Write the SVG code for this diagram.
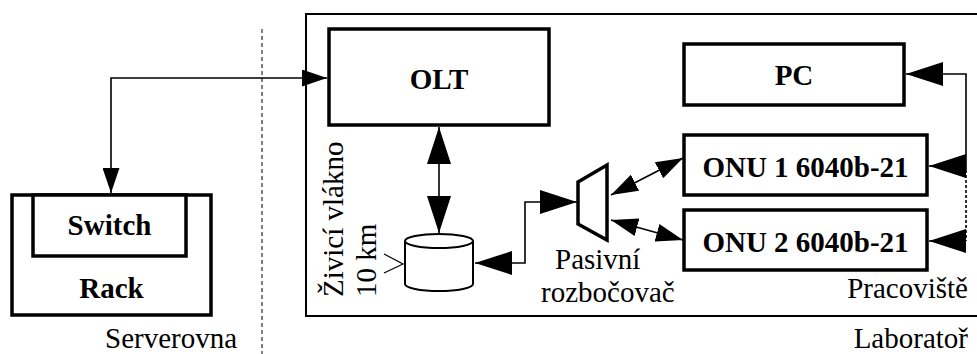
<svg xmlns="http://www.w3.org/2000/svg" width="977" height="354" viewBox="0 0 977 354">
<style>
.box{fill:#fff;stroke:#000;stroke-width:3.5}
.thin{fill:none;stroke:#000;stroke-width:2}
text{font-size:29px;fill:#000}
.b{font-weight:bold}
.ln{fill:none;stroke:#000;stroke-width:1.6}
</style>
<defs>
<marker id="big" markerUnits="userSpaceOnUse" markerWidth="37" markerHeight="24" refX="37" refY="12" orient="auto-start-reverse"><path d="M0,0 L37,12 L0,24 z" fill="#000"/></marker>
<marker id="mid" markerUnits="userSpaceOnUse" markerWidth="27" markerHeight="18" refX="27" refY="9" orient="auto-start-reverse"><path d="M0,0 L27,9 L0,18 z" fill="#000"/></marker>
<marker id="small" markerUnits="userSpaceOnUse" markerWidth="25" markerHeight="17" refX="25" refY="8.5" orient="auto-start-reverse"><path d="M0,0 L25,8.5 L0,17 z" fill="#000"/></marker>
</defs>
<rect width="977" height="354" fill="#fff"/>
<g font-family="Liberation Serif, Tinos, Times New Roman, DejaVu Serif, serif">
<g id="divider"><line x1="262" y1="29" x2="262" y2="354" stroke="#000" stroke-width="1" stroke-dasharray="4,3"/></g>
<g id="laboratory"><rect x="306" y="14" width="700" height="302" class="thin"/>
<text x="968" y="348" text-anchor="end">Laboratoř</text></g>
<g id="serverroom"><text x="105" y="348">Serverovna</text></g>
<g id="rack"><rect x="12" y="195" width="199" height="120" class="box"/>
<text class="b" x="111.5" y="298" text-anchor="middle">Rack</text></g>
<g id="switch"><rect x="33" y="195" width="153" height="61" class="box"/>
<text class="b" x="109.5" y="235" text-anchor="middle">Switch</text></g>
<g id="olt"><rect x="329" y="29" width="220" height="96" class="box"/>
<text class="b" x="439" y="89" text-anchor="middle">OLT</text></g>
<g id="pc"><rect x="684" y="44" width="220" height="61" class="box"/>
<text class="b" x="794" y="85" text-anchor="middle">PC</text></g>
<g id="onu1"><rect x="684" y="135" width="243" height="60" class="box"/>
<text class="b" x="805.5" y="177" text-anchor="middle">ONU 1 6040b-21</text></g>
<g id="onu2"><rect x="684" y="210" width="243" height="60" class="box"/>
<text class="b" x="805.5" y="252" text-anchor="middle">ONU 2 6040b-21</text></g>
<g id="fiber">
<path d="M405,241 V284 A34,7 0 0 0 473,284 V241" class="thin" fill="#fff"/>
<ellipse cx="439" cy="241" rx="34" ry="7" class="thin"/>
<path d="M384,254 L403,264 L384,273" fill="none" stroke="#000" stroke-width="1.2"/>
<text transform="translate(343,297) rotate(-90)">Živicí vlákno</text>
<text transform="translate(376,297) rotate(-90)">10 km</text>
</g>
<g id="splitter">
<path d="M578,182 L607,165 L607,240 L578,224 Z" class="box"/>
<text x="555" y="269">Pasivní</text>
<text x="541" y="302">rozbočovač</text>
</g>
<g id="workplace"><text x="968" y="298" text-anchor="end">Pracoviště</text></g>
</g>
<g id="connectors">
<path class="ln" d="M111,193 V78 H327" marker-start="url(#small)" marker-end="url(#small)"/>
<path class="ln" d="M439,127 V233" marker-start="url(#big)" marker-end="url(#big)"/>
<path class="ln" d="M475,263 H525 V202 H577" marker-start="url(#big)" marker-end="url(#big)"/>
<path class="ln" d="M611,195 L683,158" marker-start="url(#mid)" marker-end="url(#mid)"/>
<path class="ln" d="M611,220 L683,240" marker-start="url(#mid)" marker-end="url(#mid)"/>
<path class="ln" d="M906,74 H966 V170" marker-start="url(#big)"/>
<path class="ln" d="M966,166 H929" marker-end="url(#big)"/>
<path class="ln" d="M966,170 V241" stroke-dasharray="3,2"/>
<path class="ln" d="M966,241 H929" marker-end="url(#big)"/>
</g>
</svg>
